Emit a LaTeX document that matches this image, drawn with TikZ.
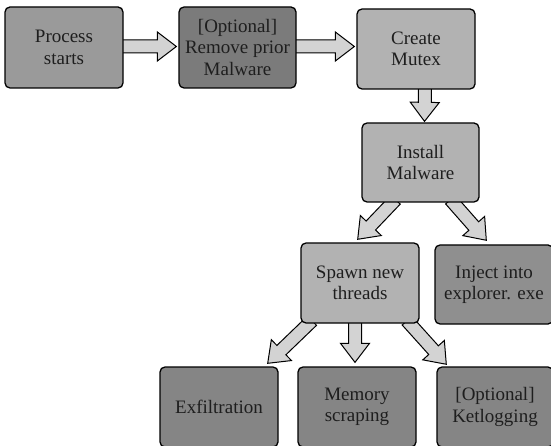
\documentclass[tikz,border=0pt]{standalone}
\usepackage{fontspec}
\setmainfont{Liberation Serif}
\usetikzlibrary{calc}
\pgfdeclarelayer{bg}
\pgfsetlayers{bg,main}
\definecolor{cA}{HTML}{9A9A9A}
\definecolor{cB}{HTML}{7B7B7B}
\definecolor{cC}{HTML}{B2B2B2}
\definecolor{cD}{HTML}{8F8F8F}
\definecolor{cE}{HTML}{858585}
\definecolor{arr}{HTML}{D3D3D3}
\definecolor{txt}{HTML}{1E1E1E}
\tikzset{
  box/.style={draw=black, line width=1.3pt, rounded corners=5pt, minimum width=118pt, minimum height=80pt,
    align=center, text=txt, inner sep=0pt, font=\fontsize{19}{21.5}\selectfont},
  blockarrow/.style={draw=black, fill=arr, line width=1pt, line join=miter},
}
\newcommand\barrow[2]{%
  \path let \p1=(#1), \p2=(#2), \n1={atan2(\y2-\y1,\x2-\x1)}, \n2={veclen(\x2-\x1,\y2-\y1)} in
    \pgfextra{\xdef\bangle{\n1}\xdef\blen{\n2}};
  \draw[blockarrow, shift={(#1)}, rotate=\bangle]
    (0,-6.5) -- (\blen-19,-6.5) -- (\blen-19,-14.5) -- (\blen,0) -- (\blen-19,14.5) -- (\blen-19,6.5) -- (0,6.5) -- cycle;}
\begin{document}
\begin{tikzpicture}[x=1pt, y=-1pt]
\clip (0,0) rectangle (551,446);
\path
  (64,47.5)   node[box, fill=cA, minimum width=118pt, minimum height=81pt] (p1) {Process\\starts}
  (237.5,47.5) node[box, fill=cB, minimum width=117pt, minimum height=81pt] (p2) {[Optional]\\Remove prior\\Malware}
  (416,49)    node[box, fill=cC] (p3) {Create\\Mutex}
  (420.5,162.5) node[box, fill=cC, minimum width=117pt, minimum height=79pt] (inst) {Install\\Malware}
  (360,283)   node[box, fill=cC] (spawn) {Spawn new\\threads}
  (494,284.5) node[box, fill=cD, minimum height=79pt] (inject) {Inject into\\explorer. exe}
  (219,407)   node[box, fill=cE] (exfil) {Exfiltration}
  (357,407)   node[box, fill=cE] (mem) {Memory\\scraping}
  (495,407)   node[box, fill=cE, minimum width=116pt] (keylog) {[Optional]\\Ketlogging};
% arrow end points
\coordinate (a1s) at ($(p1.east)+(-3,-1)$);
\coordinate (a1t) at ($(p2.west)+(-2,-1)$);
\coordinate (a2s) at ($(p2.east)+(-3,-1)$);
\coordinate (a2t) at ($(p3.west)+(-2,-2.5)$);
\coordinate (a3s) at ($(p3.south)+(9,-3)$);
\coordinate (a3t) at ($(inst.north)+(4,-1)$);
\coordinate (a4s) at ($(inst.south)+(-25,-3)$);
\coordinate (a4t) at ($(spawn.north east)+(-62,-3)$);
\coordinate (a5s) at ($(inst.south)+(30,-3)$);
\coordinate (a5t) at ($(inject.north west)+(52,-4)$);
\coordinate (a6s) at ($(spawn.south)+(-48,-3)$);
\coordinate (a6t) at ($(exfil.north east)+(-11,-3)$);
\coordinate (a7s) at ($(spawn.south)+(-5,-3)$);
\coordinate (a7t) at ($(mem.north)+(-2,-4)$);
\coordinate (a8s) at ($(spawn.south)+(47,-3)$);
\coordinate (a8t) at ($(keylog.north west)+(10,-2)$);
\begin{pgfonlayer}{bg}
\barrow{a1s}{a1t}
\barrow{a2s}{a2t}
\barrow{a3s}{a3t}
\barrow{a4s}{a4t}
\barrow{a5s}{a5t}
\barrow{a6s}{a6t}
\barrow{a7s}{a7t}
\barrow{a8s}{a8t}
\end{pgfonlayer}
\end{tikzpicture}
\end{document}
